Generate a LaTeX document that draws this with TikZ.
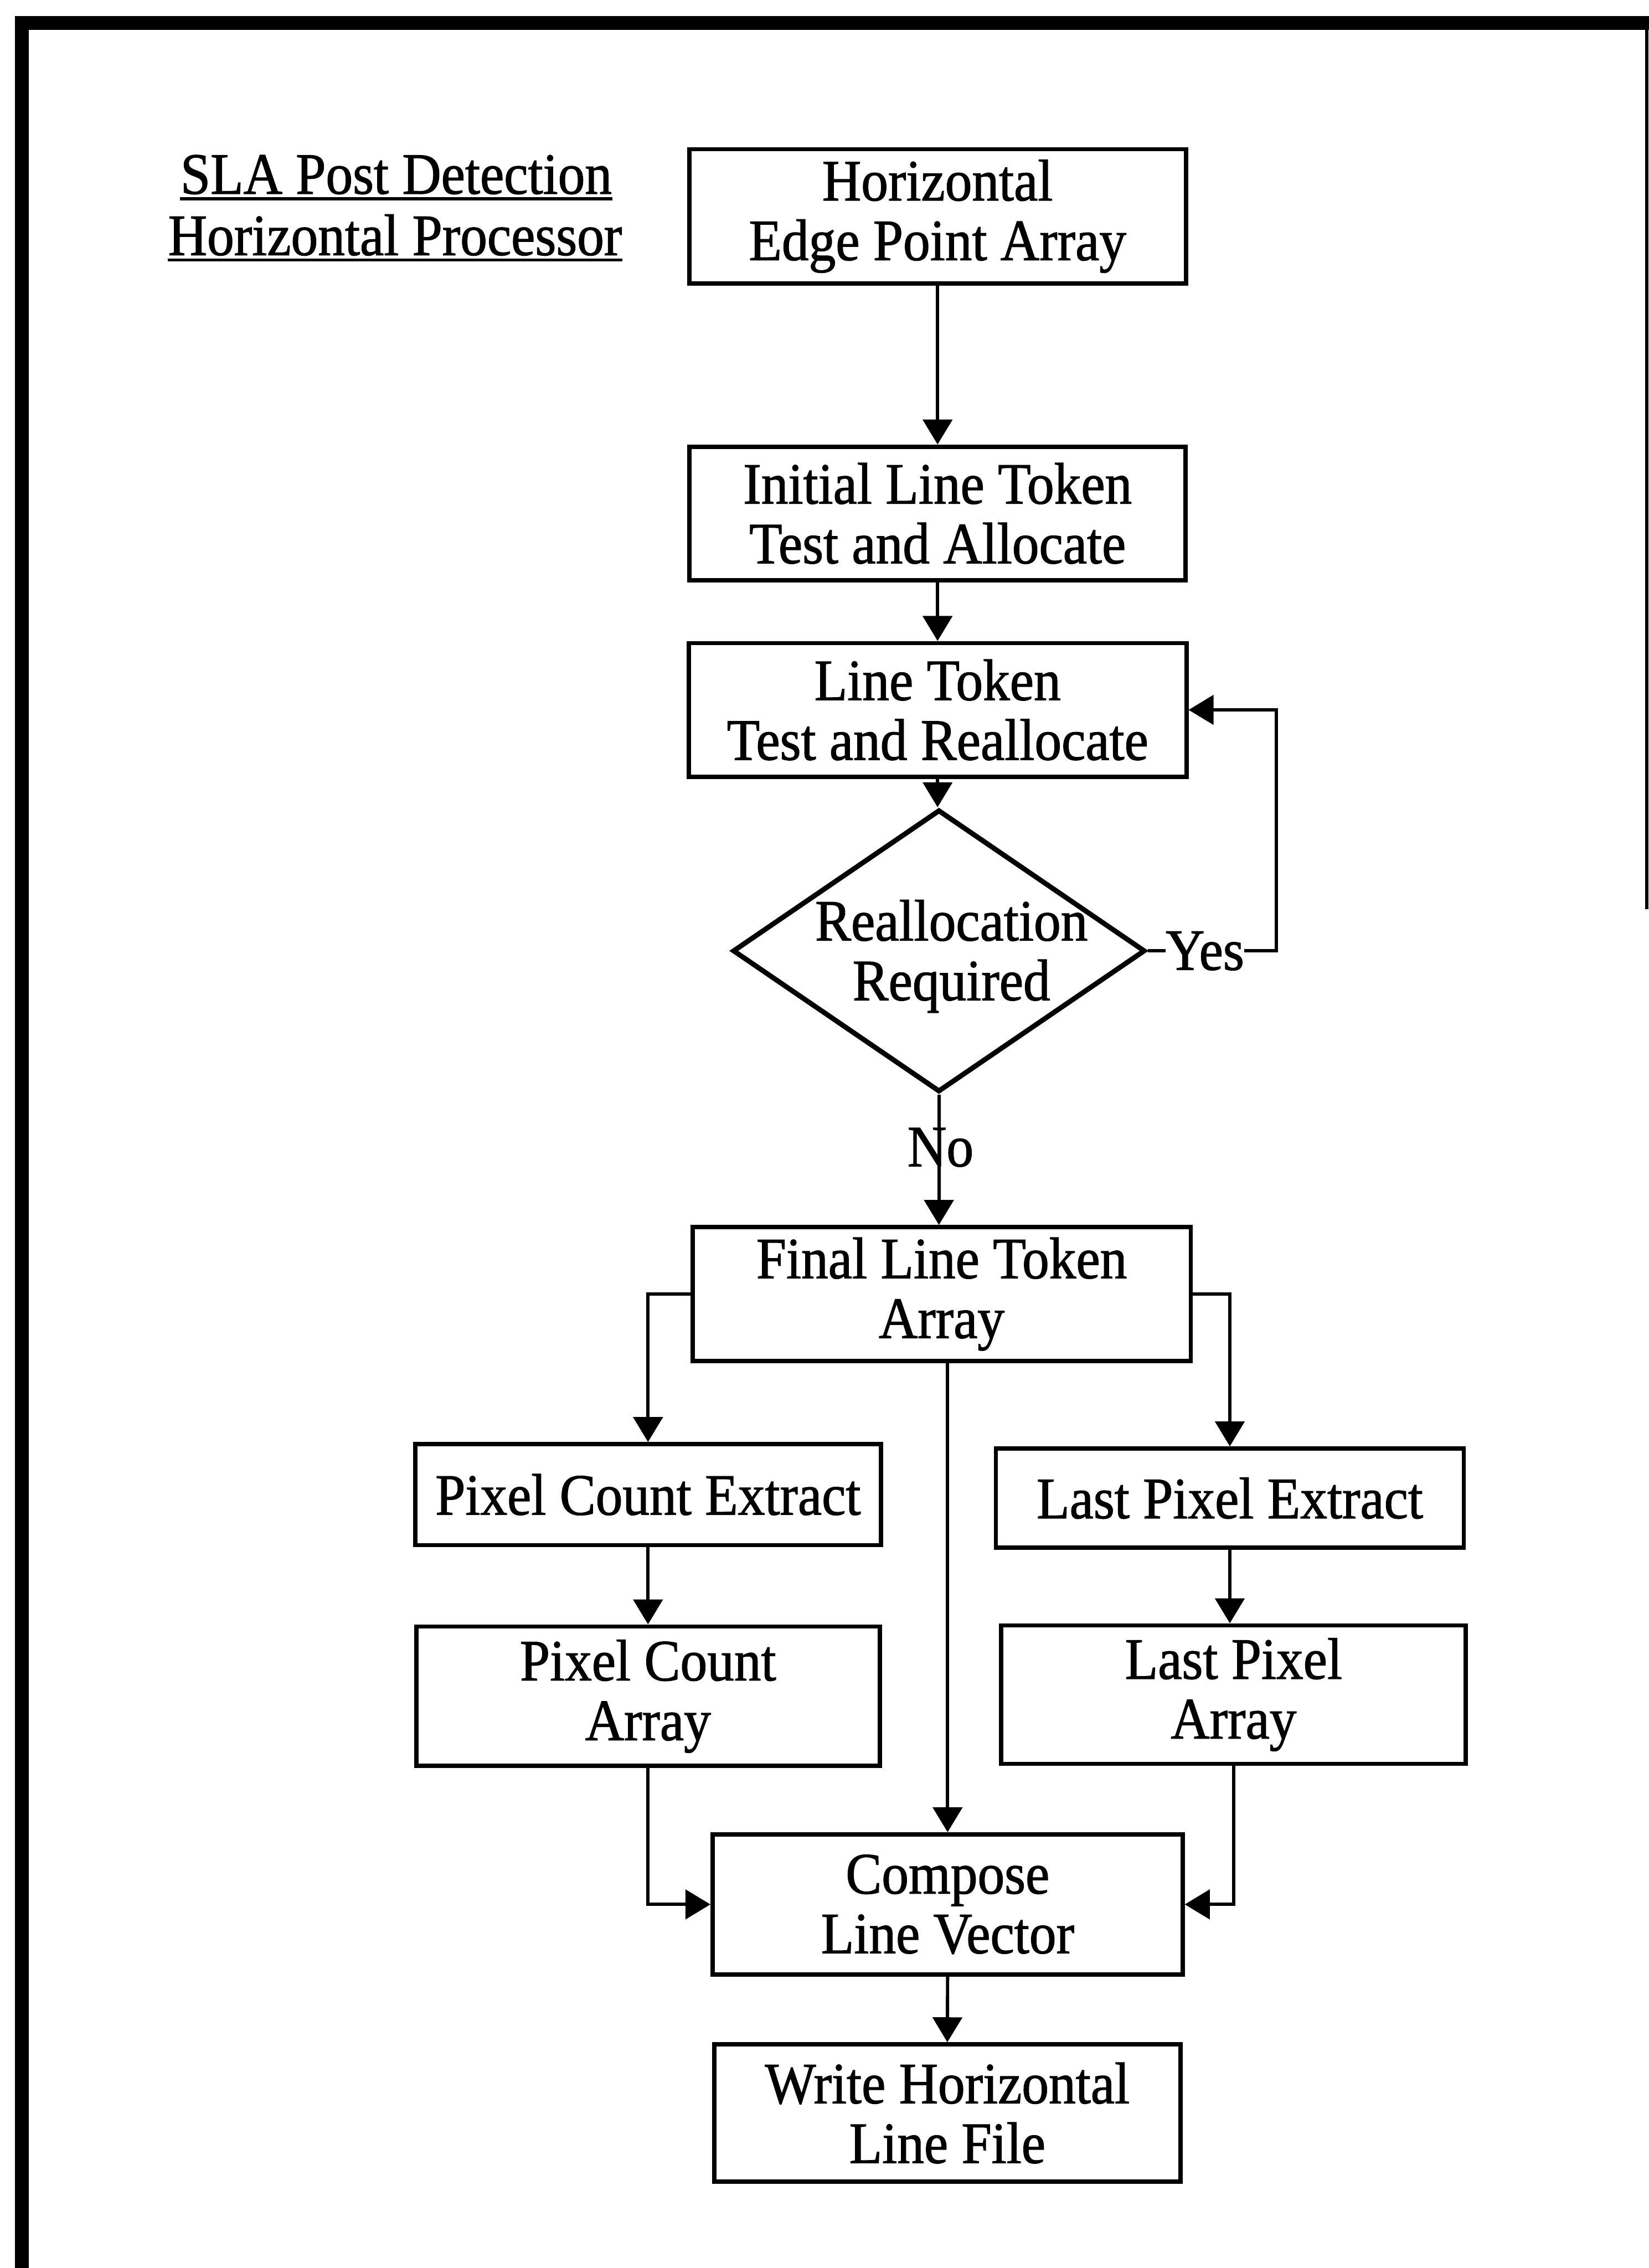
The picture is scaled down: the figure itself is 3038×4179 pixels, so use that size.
\documentclass[tikz,border=0pt]{standalone}
\usepackage{fontspec}
\setmainfont[FakeStretch=0.92,FakeBold=1.2]{Liberation Serif}
\usetikzlibrary{arrows.meta,shapes.geometric,calc}

\begin{document}
\begin{tikzpicture}[x=0.25pt,y=-0.25pt,
  txt/.style={font=\fontsize{27}{27.5}\selectfont},
  proc/.style={txt,draw,line width=2pt,align=center,inner sep=0pt},
  decide/.style={draw,diamond,line width=2.3pt,inner sep=0pt},
  link/.style={line width=1.5pt},
  arr/.style={link,-{Triangle[length=11.5pt,width=13.5pt]}},
  frame/.style={line width=6.25pt},
  heading/.style={txt,anchor=base,inner sep=0pt},
  tag/.style={txt,fill=white,inner sep=0pt,anchor=base}
]
\useasboundingbox (0,0) rectangle (3038,4179);

% page frame
\draw[frame] (40.5,4179) -- (40.5,42.5) -- (3038,42.5);
\draw[line width=1.5pt] (3034,42.5) -- (3034,1675);

% title
\node[heading] (T1) at (730,357) {SLA Post Detection};
\node[heading] (T2) at (728,470) {Horizontal Processor};
\draw[line width=1.5pt] ($(T1.base west)+(0,9)$) -- ($(T1.base east)+(0,9)$);
\draw[line width=1.5pt] ($(T2.base west)+(0,9)$) -- ($(T2.base east)+(0,9)$);

% process steps
\node[proc,minimum width=228.75pt,minimum height=61.75pt] (A) at (1727.5,398.5) {Horizontal\\Edge Point Array};
\node[proc,minimum width=228.5pt,minimum height=61.5pt] (B) at (1727.5,946) {Initial Line Token\\Test and Allocate};
\node[proc,minimum width=229.25pt,minimum height=61.5pt] (C) at (1727.5,1308) {Line Token\\Test and Reallocate};
\node[decide,minimum width=190pt,minimum height=130pt] (D) at (1730,1752) {};
\node[txt,align=center,inner sep=0pt] (Dtext) at (1753,1762) {Reallocation\\Required};
\node[proc,minimum width=229.5pt,minimum height=61.75pt] (F) at (1735,2384.5) {Final Line Token\\Array};
\node[proc,minimum width=214.5pt,minimum height=46.5pt] (PCE) at (1194,2754) {Pixel Count Extract};
\node[proc,minimum width=215.5pt,minimum height=45.75pt] (LPE) at (2266,2760.5) {Last Pixel Extract};
\node[proc,minimum width=213.5pt,minimum height=64.25pt] (PCA) at (1194,3125.5) {Pixel Count\\Array};
\node[proc,minimum width=214pt,minimum height=63.75pt] (LPA) at (2273,3122.5) {Last Pixel\\Array};
\node[proc,minimum width=216.5pt,minimum height=64.5pt] (CV) at (1746,3509) {Compose\\Line Vector};
\node[proc,minimum width=214.75pt,minimum height=63.25pt] (W) at (1745.5,3893.5) {Write Horizontal\\Line File};

% connectors
\draw[arr] (A.south) -- (B.north);
\draw[arr] (B.south) -- (C.north);
\draw[arr] (C.south) -- (C.south |- D.north);
\draw[arr] (D.east) -- ++(237,0) |- (C.east);
\node[tag] (yes) at (2220,1787) {Yes};
\draw[arr] (D.south) -- (D.south |- F.north);
\node[txt,anchor=base,inner sep=0pt] (no) at (1733,2149) {No};
\draw[arr] (F.west) -| (PCE.north);
\draw[arr] (F.east) -| (LPE.north);
\draw[arr] (F.south -| CV.north) -- (CV.north);
\draw[arr] (PCE.south) -- (PCA.north);
\draw[arr] (LPE.south) -- (LPE.south |- LPA.north);
\draw[arr] (PCA.south) |- (CV.west);
\draw[arr] (LPA.south) |- (CV.east);
\draw[arr] (CV.south) -- (W.north);
\end{tikzpicture}
\end{document}
